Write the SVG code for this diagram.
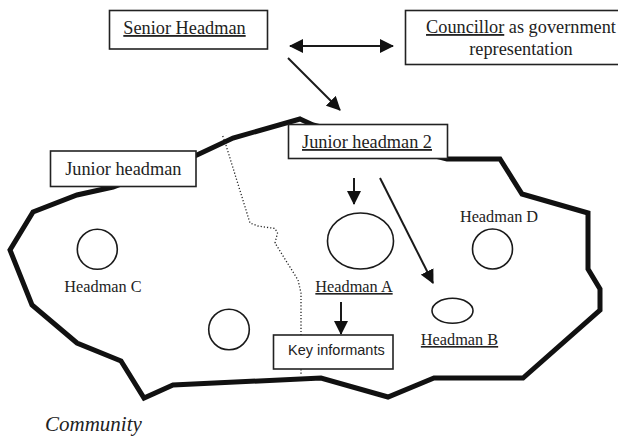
<svg xmlns="http://www.w3.org/2000/svg" width="618" height="438" viewBox="0 0 618 438">
<style>
.box{fill:#fff;stroke:#222;stroke-width:1.6}
.t{font-family:"Liberation Serif","Times New Roman",serif;font-size:18.3px;fill:#222}
.s{font-family:"Liberation Serif","Times New Roman",serif;font-size:16.3px;fill:#222}
.u{text-decoration:underline}
.sans{font-family:"Liberation Sans",Arial,sans-serif;font-size:14.5px;fill:#222}
.shape{fill:none;stroke:#1a1a1a;stroke-width:1.6}
.arr{fill:none;stroke:#1a1a1a;stroke-width:2}
.blob{fill:#fff;stroke:#111;stroke-width:5;stroke-linejoin:miter}
</style>
<defs>
<marker id="ah" viewBox="0 0 14 14" refX="13" refY="7" markerWidth="14" markerHeight="14" markerUnits="userSpaceOnUse" orient="auto-start-reverse">
<path d="M0,0 L14,7 L0,14 z" fill="#111"/>
</marker>
</defs>
<rect width="618" height="438" fill="#fff"/>
<g id="community">
<path class="blob" d="M300,119 L313,125 L447,159 L500,159 L522,194 L588,213 L588,269 L600,289 L600,310 L523,378 L434,378 L388,397 L321,378 L173,385 L144,398 L121,361 L77,343 L32,305 L10,250 L33,212 L77,195 L113,187 L197,155 L233,138 Z"/>
<path d="M222.7,136 L225,142 L250,223 L258,226 L275,228.5 L277.5,233 L275,243 L298,280 L301,293 L301,374" fill="none" stroke="#222" stroke-width="1.3" stroke-dasharray="1.2 2"/>
<text x="45" y="431" font-family="Liberation Serif,'Times New Roman',serif" font-style="italic" font-size="21" fill="#222">Community</text>
</g>
<g id="connectors">
<line class="arr" x1="290" y1="46" x2="393" y2="46" marker-start="url(#ah)" marker-end="url(#ah)"/>
<line class="arr" x1="288" y1="58" x2="340" y2="110" marker-end="url(#ah)"/>
<line class="arr" x1="354" y1="178" x2="354" y2="204" marker-end="url(#ah)"/>
<line class="arr" x1="380" y1="178" x2="433" y2="283" stroke-width="1.5" marker-end="url(#ah)"/>
<line class="arr" x1="341" y1="302" x2="341" y2="334" marker-end="url(#ah)"/>
</g>
<g id="senior-headman">
<rect class="box" x="109.5" y="10.5" width="158" height="38.5"/>
<text class="t u" x="184.5" y="34" text-anchor="middle">Senior Headman</text>
</g>
<g id="councillor">
<rect class="box" x="405.5" y="10.5" width="240" height="54"/>
<text class="t" x="521" y="33" text-anchor="middle"><tspan class="u">Councillor</tspan> as government</text>
<text class="t" x="521" y="55" text-anchor="middle">representation</text>
</g>
<g id="junior-headman-2">
<rect class="box" x="288.5" y="124.5" width="159" height="34"/>
<text class="t u" x="367" y="148" text-anchor="middle">Junior headman 2</text>
</g>
<g id="junior-headman">
<rect class="box" x="50.5" y="151" width="145.5" height="35.5"/>
<text class="t" x="123.3" y="175" text-anchor="middle">Junior headman</text>
</g>
<g id="headman-a">
<ellipse class="shape" cx="360.5" cy="241" rx="33" ry="28"/>
<text class="s u" x="354" y="292" text-anchor="middle">Headman A</text>
</g>
<g id="headman-b">
<ellipse class="shape" cx="452.5" cy="310.8" rx="20.5" ry="12.5"/>
<text class="s u" x="459.5" y="345" text-anchor="middle">Headman B</text>
</g>
<g id="headman-c">
<circle class="shape" cx="97.3" cy="249.3" r="20"/>
<text class="s" x="103" y="292" text-anchor="middle">Headman C</text>
</g>
<g id="headman-d">
<circle class="shape" cx="492.5" cy="249" r="20"/>
<text class="s" x="499" y="222" text-anchor="middle">Headman D</text>
</g>
<g id="headman-unnamed">
<ellipse class="shape" cx="229" cy="329.5" rx="20.3" ry="20.3"/>
</g>
<g id="key-informants">
<rect class="box" x="273.5" y="335" width="119.5" height="34"/>
<text class="sans" x="288" y="355">Key informants</text>
</g>
</svg>
